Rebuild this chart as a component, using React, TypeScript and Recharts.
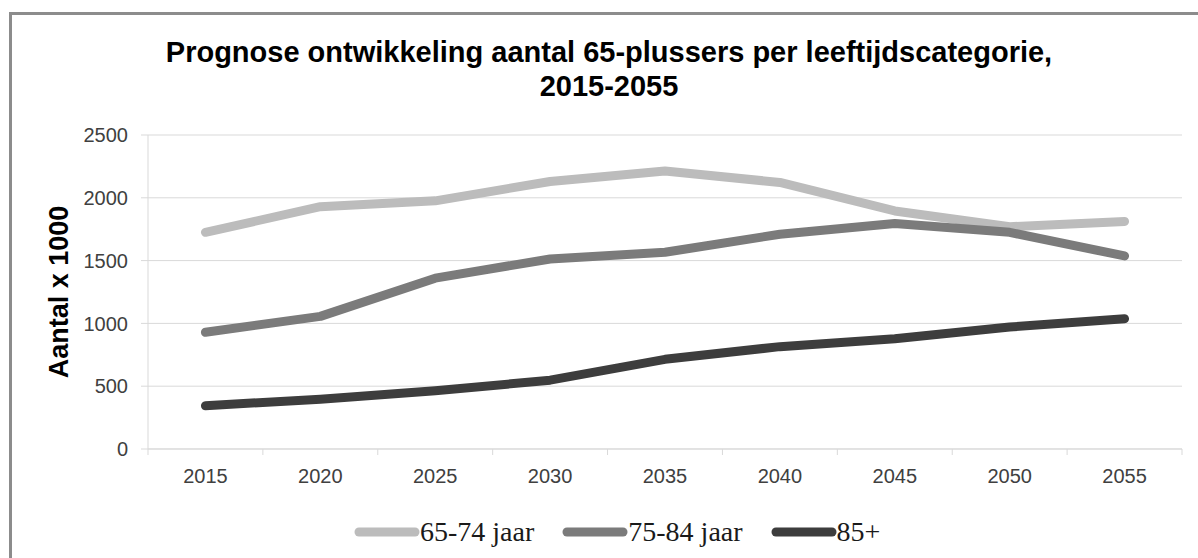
import React from "react";
import { LineChart, Line, XAxis, YAxis, CartesianGrid } from "recharts";

const years = ["2015", "2020", "2025", "2030", "2035", "2040", "2045", "2050", "2055"];
const age65to74 = [1725, 1929, 1976, 2130, 2214, 2122, 1895, 1770, 1812];
const age75to84 = [929, 1056, 1360, 1513, 1566, 1710, 1796, 1725, 1537];
const age85plus = [344, 397, 463, 548, 714, 815, 878, 971, 1037];
const yTicks = [0, 500, 1000, 1500, 2000, 2500];

const seriesNames = ["65-74 jaar", "75-84 jaar", "85+"];
const seriesKeys = ["a", "b", "c"];
const seriesColors = ["#bcbcbc", "#7b7b7b", "#3d3d3d"];

const titleLines = ["Prognose ontwikkeling aantal 65-plussers per leeftijdscategorie,", "2015-2055"];
const yLabel = "Aantal x 1000";

const data = years.map((y, i) => ({ year: y, a: age65to74[i], b: age75to84[i], c: age85plus[i] }));

const CHART_W = 1198;
const CHART_H = 558;
const MARGIN = { top: 135, right: 16, bottom: 79, left: 0 };
const YAXIS_W = 148;
const XAXIS_H = 30;
const PLOT_W = CHART_W - MARGIN.left - MARGIN.right - YAXIS_W;
const PLOT_BOTTOM = CHART_H - MARGIN.bottom - XAXIS_H;
const BAND = PLOT_W / years.length;
const GRID = "#d9d9d9";
const SANS = "'Liberation Sans', Arial, sans-serif";

const XTick = (props: any) => {
  const { x, payload, index } = props;
  const yb = PLOT_BOTTOM;
  return (
    <g>
      <line x1={x - BAND / 2} x2={x - BAND / 2} y1={yb} y2={yb + 6} stroke={GRID} strokeWidth={1} />
      {index === years.length - 1 && (
        <line x1={x + BAND / 2} x2={x + BAND / 2} y1={yb} y2={yb + 6} stroke={GRID} strokeWidth={1} />
      )}
      <text x={x} y={yb + 34} textAnchor="middle" fontSize={20} fontFamily={SANS} fill="#404040">
        {payload.value}
      </text>
    </g>
  );
};

const YLabel = (props: any) => {
  const vb = props.viewBox || {};
  const cy = (vb.y ?? MARGIN.top) + (vb.height ?? 0) / 2;
  const cx = 59;
  return (
    <text
      x={cx}
      y={cy}
      transform={`rotate(-90, ${cx}, ${cy})`}
      textAnchor="middle"
      dominantBaseline="central"
      fontSize={27}
      fontWeight="bold"
      fontFamily={SANS}
      fill="#000"
    >
      {yLabel}
    </text>
  );
};

export default function App() {
  return (
    <div style={{ position: "absolute", left: 0, top: 0, width: CHART_W, height: CHART_H, background: "#fff", overflow: "hidden" }}>
      <div
        style={{
          position: "absolute",
          left: 9,
          top: 12,
          width: 1250,
          height: 600,
          border: "3px solid #8c8c8c",
          boxSizing: "border-box",
        }}
      />
      <div style={{ position: "absolute", left: 0, top: 0 }}>
        <LineChart width={CHART_W} height={CHART_H} data={data} margin={MARGIN}>
          <text x={609} y={62} textAnchor="middle" fontSize={29} fontWeight="bold" fontFamily={SANS} fill="#000">
            {titleLines[0]}
          </text>
          <text x={609} y={96} textAnchor="middle" fontSize={29} fontWeight="bold" fontFamily={SANS} fill="#000">
            {titleLines[1]}
          </text>
          <CartesianGrid vertical={false} stroke={GRID} strokeWidth={1} />
          <XAxis
            dataKey="year"
            scale="band"
            height={XAXIS_H}
            interval={0}
            tickLine={false}
            axisLine={{ stroke: GRID, strokeWidth: 1 }}
            tick={<XTick />}
          />
          <YAxis
            width={YAXIS_W}
            domain={[0, 2500]}
            ticks={yTicks}
            interval={0}
            tickSize={7}
            tickMargin={13}
            tickLine={{ stroke: GRID }}
            axisLine={{ stroke: GRID }}
            tick={{ fontSize: 20, fontFamily: SANS, fill: "#404040" }}
            label={<YLabel />}
          />
          {seriesKeys.map((k, i) => (
            <Line
              key={k}
              type="linear"
              dataKey={k}
              name={seriesNames[i]}
              stroke={seriesColors[i]}
              strokeWidth={9}
              strokeLinecap="round"
              strokeLinejoin="round"
              dot={false}
              activeDot={false}
              isAnimationActive={false}
            />
          ))}
        </LineChart>
      </div>
      <div
        style={{
          position: "absolute",
          left: 354,
          top: 518,
          display: "flex",
          alignItems: "center",
          height: 28,
        }}
      >
        {seriesNames.map((n, i) => (
          <div key={n} style={{ display: "flex", alignItems: "center", marginRight: i < seriesNames.length - 1 ? 28 : 0 }}>
            <svg width={66} height={28} style={{ display: "block" }}>
              <line x1={5} x2={61} y1={14} y2={14} stroke={seriesColors[i]} strokeWidth={9} strokeLinecap="round" />
            </svg>
            <span
              style={{
                fontFamily: "'Liberation Serif', 'Times New Roman', serif",
                fontSize: 28,
                lineHeight: "28px",
                color: "#1a1a1a",
                whiteSpace: "nowrap",
              }}
            >
              {n}
            </span>
          </div>
        ))}
      </div>
    </div>
  );
}
